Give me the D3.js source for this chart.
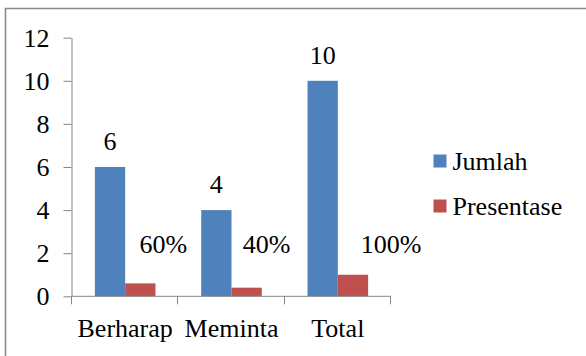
<!DOCTYPE html>
<html>
<head>
<meta charset="utf-8">
<script src="https://cdn.jsdelivr.net/npm/d3@7/dist/d3.min.js"></script>
<style>
  html, body { margin: 0; padding: 0; background: #fff; }
  svg { display: block; }
</style>
</head>
<body>
<svg id="fig" width="586" height="356"></svg>
<script>
// Chart data
const categories = ["Berharap", "Meminta", "Total"];
const seriesNames = ["Jumlah", "Presentase"];
const jumlah = [6, 4, 10];
const presentase = [0.6, 0.4, 1.0];
const presentaseLabels = ["60%", "40%", "100%"];
const yTicks = [0, 2, 4, 6, 8, 10, 12];

const colors = { Jumlah: "#4F81BD", Presentase: "#C0504D" };
// horizontal nudges for the percentage labels (pixels from bar centre)
const pctNudge = [23, 20, 38];

const FONT = "'Liberation Serif'";
const fontSize = 26;

const svg = d3.select("#fig");
const W = 586, H = 356;

function serif(sel) {
  return sel.style("font-family", FONT)
    .attr("font-size", fontSize)
    .attr("fill", "#000");
}

// outer frame (top and left edges visible)
svg.append("path")
  .attr("d", `M5.5,${H} L5.5,8.5 L${W},8.5`)
  .attr("fill", "none")
  .attr("stroke", "#8a8a8a")
  .attr("stroke-width", 1.6);

const plot = { left: 72, right: 391, top: 37.7, bottom: 296.3 };

const y = d3.scaleLinear().domain([0, 12]).range([plot.bottom, plot.top]);
const x = d3.scaleBand().domain(categories).range([plot.left, plot.right]).paddingInner(0).paddingOuter(0);
const xInner = d3.scaleBand().domain(seriesNames).range([0, x.bandwidth()]).paddingInner(0).paddingOuter(0.755);

// bars
seriesNames.forEach(s => {
  const vals = s === "Jumlah" ? jumlah : presentase;
  svg.append("g").selectAll("rect")
    .data(categories)
    .join("rect")
    .attr("x", (c) => x(c) + xInner(s))
    .attr("y", (c, i) => y(vals[i]))
    .attr("width", xInner.bandwidth())
    .attr("height", (c, i) => y(0) - y(vals[i]))
    .attr("fill", colors[s]);
});

// value labels for Jumlah
categories.forEach((c, i) => {
  svg.append("text")
    .attr("x", x(c) + xInner("Jumlah") + xInner.bandwidth() / 2)
    .attr("y", y(jumlah[i]) - 17)
    .attr("text-anchor", "middle")
    .call(serif)
    .text(String(jumlah[i]));
});

// percentage labels
categories.forEach((c, i) => {
  svg.append("text")
    .attr("x", x(c) + xInner("Presentase") + xInner.bandwidth() / 2 + pctNudge[i])
    .attr("y", y(2) - 0.5)
    .attr("text-anchor", "middle")
    .call(serif)
    .text(presentaseLabels[i]);
});

// y axis
const yAxis = d3.axisLeft(y).tickValues(yTicks).tickSize(8).tickPadding(14).tickSizeOuter(0);
const gy = svg.append("g").attr("transform", `translate(${plot.left - 0.5},0)`).call(yAxis);
gy.attr("font-family", null).attr("font-size", null);
gy.select(".domain").attr("stroke", "#868686");
gy.selectAll(".tick line").attr("stroke", "#868686");
gy.selectAll(".tick text").call(serif);

// x axis line and category separators
svg.append("line")
  .attr("x1", plot.left - 0.5).attr("x2", plot.right)
  .attr("y1", plot.bottom).attr("y2", plot.bottom)
  .attr("stroke", "#868686");
const sepX = categories.map(c => x(c)).concat([x(categories[categories.length - 1]) + x.bandwidth()]);
sepX.forEach(d => {
  svg.append("line")
    .attr("x1", Math.round(d) - 0.5).attr("x2", Math.round(d) - 0.5)
    .attr("y1", plot.bottom).attr("y2", plot.bottom + 8)
    .attr("stroke", "#868686");
});
categories.forEach(c => {
  svg.append("text")
    .attr("x", x(c) + x.bandwidth() / 2)
    .attr("y", plot.bottom + 40.5)
    .attr("text-anchor", "middle")
    .call(serif)
    .text(c);
});

// legend
seriesNames.forEach((s, i) => {
  svg.append("rect")
    .attr("x", 433.5).attr("y", 154.5 + i * 45)
    .attr("width", 13).attr("height", 13)
    .attr("fill", colors[s]);
  svg.append("text")
    .attr("x", 452.5).attr("y", 170 + i * 45)
    .call(serif)
    .text(s);
});
</script>
</body>
</html>
